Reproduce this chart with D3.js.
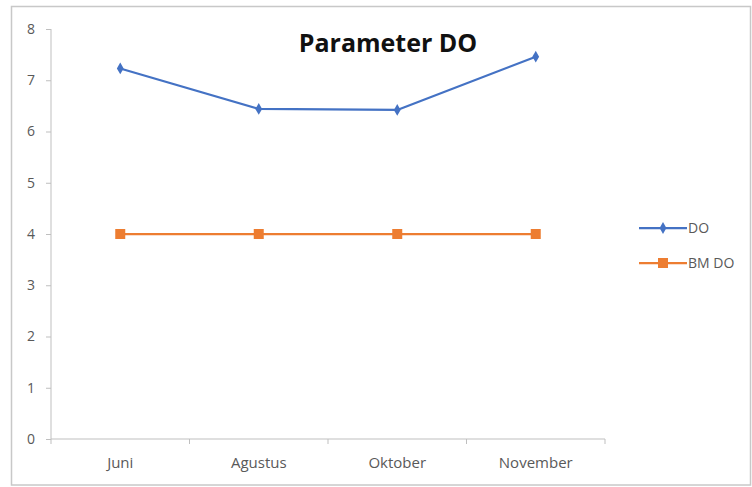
<!DOCTYPE html>
<html>
<head>
<meta charset="utf-8">
<script src="https://cdn.jsdelivr.net/npm/d3@7"></script>
<style>
  html, body { margin: 0; padding: 0; background: #fff; }
  svg { display: block; }
</style>
</head>
<body>
<div id="chart"></div>
<script>
// Monthly dissolved oxygen readings against the quality standard (BM DO)
const months = ["Juni", "Agustus", "Oktober", "November"];
const doValues = [7.23, 6.44, 6.42, 7.46];
const bmValues = [4, 4, 4, 4];
const yTicks = [0, 1, 2, 3, 4, 5, 6, 7, 8];
const seriesNames = ["DO", "BM DO"];
const seriesColors = ["#4472c4", "#ed7d31"];

const W = 752, H = 487;
const svg = d3.select("#chart").append("svg")
  .attr("width", W).attr("height", H);

// chart frame
svg.append("rect")
  .attr("x", 11.5).attr("y", 6.5)
  .attr("width", 739).attr("height", 478.5)
  .attr("fill", "#fff").attr("stroke", "#c8c8c8").attr("stroke-width", 1.5);

const plot = { left: 51, right: 605, top: 29, bottom: 439 };

const x = d3.scaleBand().domain(months).range([plot.left, plot.right]);
const y = d3.scaleLinear().domain([0, 8]).range([plot.bottom, plot.top]);

const font = "'Open Sans', 'Liberation Sans', sans-serif";

// y axis
const yAxis = svg.append("g")
  .attr("transform", `translate(${plot.left},0)`)
  .call(d3.axisLeft(y).tickValues(yTicks).tickSize(5).tickPadding(11).tickFormat(d3.format("d")));
yAxis.select(".domain").attr("stroke", "#bfbfbf").attr("d", `M0,${plot.top}V${plot.bottom}`);
yAxis.selectAll(".tick line").attr("stroke", "#bfbfbf");
yAxis.selectAll(".tick text").attr("fill", "#595959")
  .style("font-family", font).style("font-size", "14px");

// x axis with ticks on category boundaries
const xAxis = svg.append("g")
  .attr("transform", `translate(0,${plot.bottom})`)
  .call(d3.axisBottom(x).tickSize(0).tickPadding(18));
xAxis.select(".domain").attr("stroke", "#bfbfbf").attr("d", `M${plot.left},0H${plot.right}`);
xAxis.selectAll(".tick text").attr("fill", "#595959")
  .style("font-family", font).style("font-size", "15px");
const bounds = months.map(m => x(m)).concat([plot.right]);
xAxis.selectAll(".bound").data(bounds).enter().append("line")
  .attr("x1", d => d).attr("x2", d => d).attr("y1", 0).attr("y2", 5)
  .attr("stroke", "#bfbfbf");

const cx = m => x(m) + x.bandwidth() / 2;

// DO series
const line = d3.line().x((d, i) => cx(months[i])).y(d => y(d));
svg.append("path").datum(doValues)
  .attr("d", line).attr("fill", "none")
  .attr("stroke", seriesColors[0]).attr("stroke-width", 2.25).attr("stroke-linejoin", "round");
const diamond = d3.symbol().type(d3.symbolDiamond).size(40);
svg.selectAll(".do-pt").data(doValues).enter().append("path")
  .attr("d", diamond)
  .attr("transform", (d, i) => `translate(${cx(months[i])},${y(d)})`)
  .attr("fill", seriesColors[0]);

// BM DO series
svg.append("path").datum(bmValues)
  .attr("d", line).attr("fill", "none")
  .attr("stroke", seriesColors[1]).attr("stroke-width", 2.25);
svg.selectAll(".bm-pt").data(bmValues).enter().append("rect")
  .attr("x", (d, i) => cx(months[i]) - 5)
  .attr("y", d => y(d) - 5)
  .attr("width", 10).attr("height", 10)
  .attr("fill", seriesColors[1]);

// title
svg.append("text")
  .attr("x", 388).attr("y", 52)
  .attr("text-anchor", "middle")
  .attr("fill", "#111")
  .style("font-family", font).style("font-size", "25px").style("font-weight", "bold")
  .text("Parameter DO");

// legend
const legend = svg.append("g");
const legendY = [228, 263];
seriesNames.forEach((name, i) => {
  const g = legend.append("g").attr("transform", `translate(639,${legendY[i]})`);
  g.append("line").attr("x1", 0).attr("x2", 48).attr("y1", 0).attr("y2", 0)
    .attr("stroke", seriesColors[i]).attr("stroke-width", 2.25);
  if (i === 0) {
    g.append("path").attr("d", diamond).attr("transform", "translate(24,0)").attr("fill", seriesColors[i]);
  } else {
    g.append("rect").attr("x", 19).attr("y", -5).attr("width", 10).attr("height", 10).attr("fill", seriesColors[i]);
  }
  g.append("text").attr("x", 49).attr("y", 5)
    .attr("fill", "#595959")
    .style("font-family", font).style("font-size", "14px")
    .text(name);
});
</script>
</body>
</html>
